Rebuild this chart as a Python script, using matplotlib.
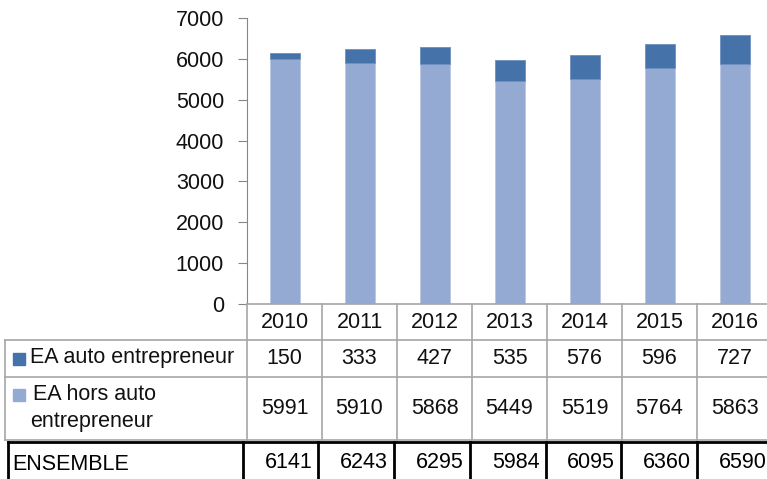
import matplotlib.pyplot as plt

years = ['2010', '2011', '2012', '2013', '2014', '2015', '2016']
auto_ent = [150, 333, 427, 535, 576, 596, 727]
hors_auto = [5991, 5910, 5868, 5449, 5519, 5764, 5863]
ensemble = [6141, 6243, 6295, 5984, 6095, 6360, 6590]

dark = '#4572A8'
light = '#95AAD2'
grid_c = '#A6A6A6'
txt_c = '#111111'

plt.rcParams['font.family'] = ['Liberation Sans', 'DejaVu Sans']

W, H = 767, 479
fig = plt.figure(figsize=(W / 100, H / 100), dpi=100)

# pixel layout (from the reference)
col_w = 75.0
x_axis = 247
y_top, y_axis = 18, 304
n = len(years)
right = x_axis + n * col_w

ax = fig.add_axes([x_axis / W, (H - y_axis) / H, (right - x_axis) / W, (y_axis - y_top) / H])
xs = list(range(n))
ax.bar(xs, hors_auto, width=0.4, color=light, edgecolor='#B9C8E3', linewidth=0.6, zorder=2)
ax.bar(xs, auto_ent, width=0.4, bottom=hors_auto, color=dark, edgecolor='#6E8FBE', linewidth=0.6, zorder=2)
ax.set_xlim(-0.5, n - 0.5)
ax.set_ylim(0, 7000)
ax.set_yticks(range(0, 7001, 1000))
ax.set_xticks([])
for s in ['top', 'right', 'bottom']:
    ax.spines[s].set_visible(False)
ax.spines['left'].set_color('#868686')
ax.tick_params(axis='y', length=6.5, color='#868686', labelsize=15.5, pad=10, labelcolor=txt_c)

# table below, same column scale, y in pixel rows
x0 = 5
tab = fig.add_axes([x0 / W, 0, (right - x0) / W, (H - y_axis) / H])
tab.set_xlim(-0.5 - (x_axis - x0) / col_w, n - 0.5)
tab.set_ylim(H, y_axis)
tab.axis('off')


def px(p):
    return -0.5 + (p - x_axis) / col_w


lx = px(x0)
edge = n - 0.5
kw = dict(color=grid_c, lw=1.2, clip_on=False)
tab.plot([-0.5, edge], [y_axis, y_axis], **kw)
for yy in [340, 377, 440]:
    tab.plot([lx, edge], [yy, yy], **kw)
tab.plot([lx, lx], [340, 440], **kw)
for i in range(n):
    tab.plot([i - 0.5, i - 0.5], [y_axis, 440], **kw)

# ENSEMBLE row with black borders
bk = dict(color='black', lw=2, clip_on=False)
tab.plot([px(8), edge + 1], [442, 442], **bk)
tab.plot([px(8), px(8)], [442, H + 5], **bk)
for i in range(n):
    xb = i - 0.5 - 0.06 + 0.01 * i
    tab.plot([xb, xb], [442, H + 5], **bk)

fs = 15.5
for i, y in enumerate(years):
    tab.text(i, 322, y, ha='center', va='center', fontsize=fs, color=txt_c)
    tab.text(i, 358, str(auto_ent[i]), ha='center', va='center', fontsize=fs, color=txt_c)
    tab.text(i, 408, str(hors_auto[i]), ha='center', va='center', fontsize=fs, color=txt_c)
    tab.text(i + 0.5 - 0.13 + 0.01 * i, 463, str(ensemble[i]), ha='right', va='center',
             fontsize=fs, color='black', clip_on=False)

tab.plot([px(19)], [358.5], marker='s', ms=8.6, color=dark, mec=dark, clip_on=False)
tab.plot([px(19)], [395], marker='s', ms=8.6, color=light, mec=light, clip_on=False)
tab.text(px(30), 358, 'EA auto entrepreneur', ha='left', va='center', fontsize=fs, color=txt_c)
tab.text(px(33), 395, 'EA hors auto', ha='left', va='center', fontsize=fs, color=txt_c)
tab.text(px(30), 422, 'entrepreneur', ha='left', va='center', fontsize=fs, color=txt_c)
tab.text(px(12), 464, 'ENSEMBLE', ha='left', va='center', fontsize=fs, color='black')

fig.savefig('out.png', dpi=100)
